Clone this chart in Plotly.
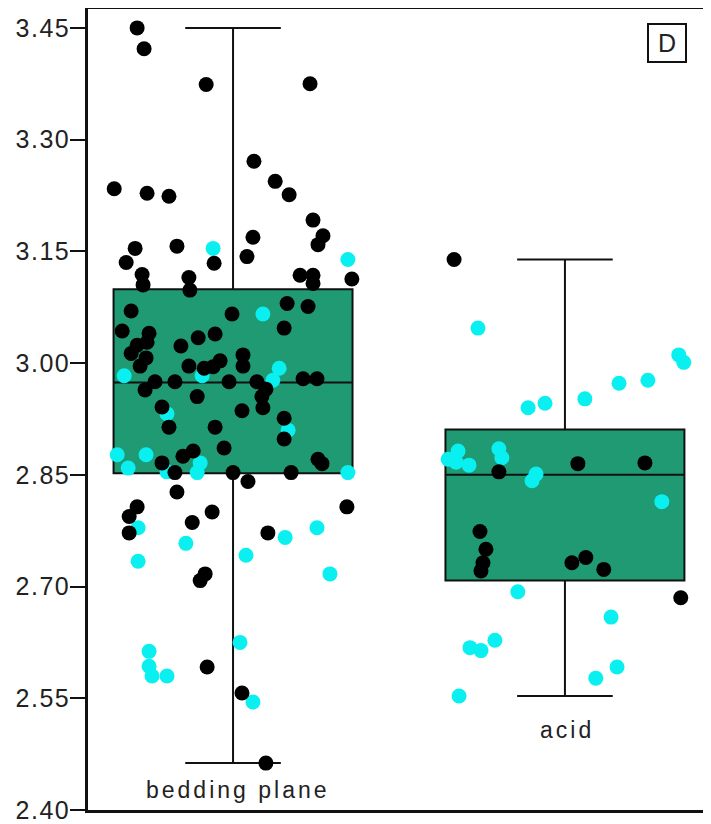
import plotly.graph_objects as go

# ---------------- data ----------------
categories = ["bedding plane", "acid"]
cat_pos = [0, 1]

# box statistics
q1 = [2.852, 2.708]
median = [2.974, 2.850]
q3 = [3.099, 2.911]
lower_fence = [2.463, 2.553]
upper_fence = [3.450, 3.139]

# bedding plane - black points (value, horizontal jitter)
bed_black_y = [3.450, 3.422, 3.374, 3.375, 3.234, 3.228, 3.224, 3.271, 3.244, 3.226,
               3.192, 3.171, 3.159, 3.169, 3.143, 3.154, 3.135, 3.157, 3.134, 3.119,
               3.115, 3.118, 3.118, 3.107, 3.113, 3.105, 3.098, 3.070, 3.066, 3.080,
               3.076, 3.043, 3.040, 3.047, 3.039, 3.034, 3.023, 3.028, 3.024, 3.013,
               3.007, 2.996, 2.996, 2.993, 2.995, 3.003, 3.011, 2.996, 2.964, 2.975,
               2.975, 2.975, 2.975, 2.965, 2.955, 2.940, 2.979, 2.979, 2.955, 2.936,
               2.941, 2.914, 2.914, 2.926, 2.898, 2.886, 2.882, 2.875, 2.866, 2.853,
               2.853, 2.853, 2.871, 2.865, 2.841, 2.827, 2.807, 2.794, 2.772, 2.786,
               2.800, 2.772, 2.807, 2.708, 2.717, 2.592, 2.557, 2.463]
bed_black_dx = [-0.289, -0.268, -0.081, 0.232, -0.358, -0.259, -0.193, 0.063, 0.127, 0.169,
                0.241, 0.271, 0.256, 0.060, 0.042, -0.295, -0.322, -0.169, -0.057, -0.274,
                -0.133, 0.202, 0.241, 0.241, 0.358, -0.271, -0.130, -0.307, -0.003, 0.163,
                0.226, -0.334, -0.253, 0.154, -0.054, -0.105, -0.157, -0.259, -0.289, -0.307,
                -0.262, -0.280, -0.133, -0.087, -0.060, -0.039, 0.030, 0.030, -0.265, -0.235,
                -0.175, -0.012, 0.072, 0.099, 0.087, 0.090, 0.211, 0.253, -0.108, 0.027,
                -0.214, -0.193, -0.054, 0.154, 0.154, -0.027, -0.120, -0.151, -0.214, -0.175,
                0.000, 0.175, 0.256, 0.268, 0.045, -0.169, -0.289, -0.313, -0.313, -0.123,
                -0.063, 0.105, 0.343, -0.099, -0.084, -0.078, 0.027, 0.099]

# bedding plane - cyan points
bed_cyan_y = [3.154, 3.139, 3.066, 2.993, 2.977, 2.983, 2.983, 2.932, 2.910, 2.877,
              2.877, 2.859, 2.866, 2.853, 2.854, 2.853, 2.779, 2.766, 2.779, 2.758,
              2.734, 2.742, 2.717, 2.613, 2.593, 2.580, 2.580, 2.625, 2.545]
bed_cyan_dx = [-0.060, 0.346, 0.090, 0.139, 0.120, -0.328, -0.093, -0.199, 0.166, -0.262,
               -0.349, -0.316, -0.099, -0.108, -0.199, 0.346, -0.286, 0.157, 0.253, -0.142,
               -0.286, 0.039, 0.292, -0.253, -0.253, -0.244, -0.199, 0.021, 0.060]

# acid - black points
acid_black_y = [3.139, 2.854, 2.865, 2.866, 2.774, 2.750, 2.732, 2.721, 2.732, 2.739,
                2.723, 2.685]
acid_black_dx = [-0.334, -0.199, 0.039, 0.241, -0.256, -0.238, -0.247, -0.253, 0.021, 0.063,
                 0.117, 0.349]

# acid - cyan points
acid_cyan_y = [3.047, 2.940, 2.946, 2.952, 2.973, 2.977, 3.011, 3.001, 2.871, 2.882,
               2.867, 2.863, 2.885, 2.873, 2.842, 2.851, 2.814, 2.693, 2.659, 2.618,
               2.614, 2.628, 2.553, 2.577, 2.592]
acid_cyan_dx = [-0.262, -0.111, -0.060, 0.060, 0.163, 0.250, 0.343, 0.358, -0.352, -0.322,
                -0.328, -0.289, -0.199, -0.190, -0.099, -0.087, 0.292, -0.142, 0.139, -0.286,
                -0.253, -0.211, -0.319, 0.093, 0.157]

y_tick_vals = [2.40, 2.55, 2.70, 2.85, 3.00, 3.15, 3.30, 3.45]
y_tick_text = ["2.40", "2.55", "2.70", "2.85", "3.00", "3.15", "3.30", "3.45"]
panel_label = "D"

# ---------------- styling ----------------
GREEN = "#1f9a73"
CYAN = "#0af0f0"
BLACK = "#000000"
FONT = "Liberation Sans, Arial, sans-serif"
MS = 15

def spaced(t, px):
    return '<span style="letter-spacing:%spx">%s</span>' % (px, t)

fig = go.Figure()

for i, cat in enumerate(categories):
    fig.add_trace(go.Box(
        x=[cat_pos[i]], q1=[q1[i]], median=[median[i]], q3=[q3[i]],
        lowerfence=[lower_fence[i]], upperfence=[upper_fence[i]],
        width=0.72, whiskerwidth=0.4, fillcolor=GREEN,
        line=dict(color="#111111", width=2), boxpoints=False,
        showlegend=False, hoverinfo="skip", name=cat))

def add_points(pos, dx, ys, color):
    fig.add_trace(go.Scatter(
        x=[pos + d for d in dx], y=ys, mode="markers",
        marker=dict(size=MS, color=color, line=dict(width=0)),
        showlegend=False, hoverinfo="skip"))

add_points(cat_pos[0], bed_cyan_dx, bed_cyan_y, CYAN)
add_points(cat_pos[1], acid_cyan_dx, acid_cyan_y, CYAN)
add_points(cat_pos[0], bed_black_dx, bed_black_y, BLACK)
add_points(cat_pos[1], acid_black_dx, acid_black_y, BLACK)

annotations = [
    dict(x=cat_pos[0] + 0.015, y=2.427, xref="x", yref="y",
         text=spaced(categories[0], 3),
         showarrow=False, font=dict(family=FONT, size=23, color="#222222"),
         xanchor="center", yanchor="middle"),
    dict(x=cat_pos[1] + 0.006, y=2.507, xref="x", yref="y",
         text=spaced(categories[1], 3),
         showarrow=False, font=dict(family=FONT, size=23, color="#222222"),
         xanchor="center", yanchor="middle"),
    dict(x=0.940, y=0.958, xref="paper", yref="paper", text=panel_label,
         showarrow=False, font=dict(family=FONT, size=25, color="#222222"),
         xanchor="center", yanchor="middle", bordercolor="#111111", borderwidth=2,
         borderpad=0, width=36, height=36, bgcolor="white"),
]

# the page body adds an 8 px offset, so the figure is sized/margined to compensate
fig.update_layout(
    width=703, height=816,
    margin=dict(l=80, r=7, t=1, b=14),
    paper_bgcolor="white", plot_bgcolor="white",
    annotations=annotations,
    xaxis=dict(range=[-0.437, 1.419], showticklabels=False, ticks="",
               showgrid=False, zeroline=False, showline=True, mirror=True,
               linecolor="#111111", linewidth=2.5, automargin=False),
    yaxis=dict(range=[2.40, 3.4754], tickvals=y_tick_vals,
               ticktext=[spaced(t, 1.5) for t in y_tick_text],
               ticks="outside", ticklen=15, tickwidth=2, tickcolor="#111111",
               ticklabelstandoff=-5,
               showgrid=False, zeroline=False, showline=True, mirror=True,
               linecolor="#111111", linewidth=2.5, automargin=False,
               tickfont=dict(family=FONT, size=25, color="#222222")),
)

fig.write_html("out.html")
